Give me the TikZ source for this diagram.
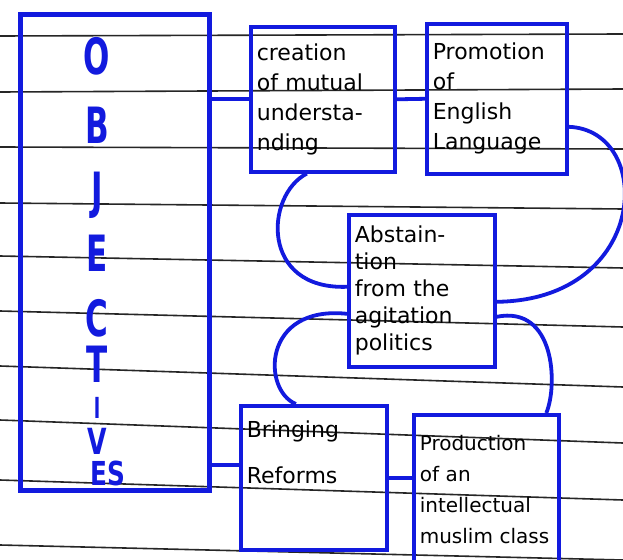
\documentclass[tikz,border=0pt]{standalone}
\usepackage{fontspec}
\usepackage{graphicx}
\setmainfont{DejaVu Sans}
\definecolor{inkblue}{RGB}{18,26,222}
\newcommand{\narrowch}[2]{\scalebox{#1}[1]{#2}}

\begin{document}
\begin{tikzpicture}[x=1pt, y=-1pt,
    paperline/.style={black!85, line width=1.6pt},
    box/.style={draw=inkblue, line width=3.6pt, anchor=north west, inner sep=6pt,
                align=left, font=\fontsize{22}{30}\selectfont},
    link/.style={draw=inkblue, line width=3.8pt},
    letter/.style={text=inkblue, inner sep=0pt, text height=36pt, text depth=0pt,
                   font=\fontsize{50}{50}\bfseries\selectfont}]

    % Fix the page size
    \useasboundingbox[fill=white] (0,0) rectangle (623,559);

    % Ruled lines of the notebook page
    \foreach \ya/\yb in {36/34, 92/89, 147/149, 203/209, 256/268, 311/327,
                         366/387, 420/443, 480/500, 545/560}
        \draw[paperline] (0,\ya) -- (623,\yb);

    % The tall box on the left
    \node[box, line width=4.6pt, minimum width=189pt, minimum height=476pt] (obj) at (18,12) {};

    % The word written downwards inside it
    \foreach \ch/\yy [count=\i] in {O/57, B/125, J/190, E/253, C/318, T/364}
        \node[letter] (l\i) at (97,\yy) {\narrowch{0.62}{\ch}};
    \node[letter, text height=21pt, font=\fontsize{29}{29}\bfseries\selectfont] (l7) at (97,408) {\narrowch{0.6}{I}};
    \node[letter, text height=26pt, font=\fontsize{36}{36}\bfseries\selectfont] (l8) at (97,441) {\narrowch{0.7}{V}};
    \node[letter, text height=24pt, font=\fontsize{33}{33}\bfseries\selectfont] (l9) at (108,473) {\narrowch{0.75}{ES}};

    % The five objective boxes
    \node[box, minimum width=144pt, minimum height=145pt, text width=132pt] (creat) at (249,25)
        {creation\\of mutual\\understa-\\nding};
    \node[box, minimum width=140pt, minimum height=150pt, text width=128pt] (promo) at (425,22)
        {Promotion\\of\\English\\Language};
    \node[box, minimum width=146pt, minimum height=152pt, text width=134pt,
          font=\fontsize{22}{27}\selectfont] (abst) at (347,213)
        {Abstain-\\tion\\from the\\agitation\\politics};
    \node[box, minimum width=146pt, minimum height=144pt, text width=134pt] (bring) at (239,404)
        {Bringing\\[16pt]Reforms\\[22pt]\mbox{}};
    \node[box, minimum width=145pt, minimum height=150pt, text width=133pt,
          font=\fontsize{20}{31}\selectfont] (prod) at (412,413)
        {Production\\of an\\intellectual\\muslim class};

    % Straight links along the top row
    \draw[link] (creat.west -| obj.east) -- (creat.west);
    \draw[link] (creat.east) -- (promo.west);

    % Loops joining the top row to the middle box
    \draw[link] ([xshift=-16pt]creat.south) .. controls (265,195) and (260,290) .. ([yshift=4pt]abst.west);
    \draw[link] ([yshift=-28pt]promo.east) .. controls (655,130) and (650,300) .. ([yshift=-11pt]abst.east);

    % Loops joining the middle box to the bottom row
    \draw[link] ([yshift=-23pt]abst.west) .. controls (262,305) and (262,390) .. ([xshift=-18pt]bring.north);
    \draw[link] ([yshift=-26pt]abst.east) .. controls (555,305) and (558,385) .. ([xshift=60pt]prod.north);

    % Straight links along the bottom row
    \coordinate (bl) at ([yshift=13pt]bring.west);
    \draw[link] (bl -| obj.east) -- (bl);
    \draw[link] (bring.east) -- (bring.east -| prod.west);

\end{tikzpicture}
\end{document}
